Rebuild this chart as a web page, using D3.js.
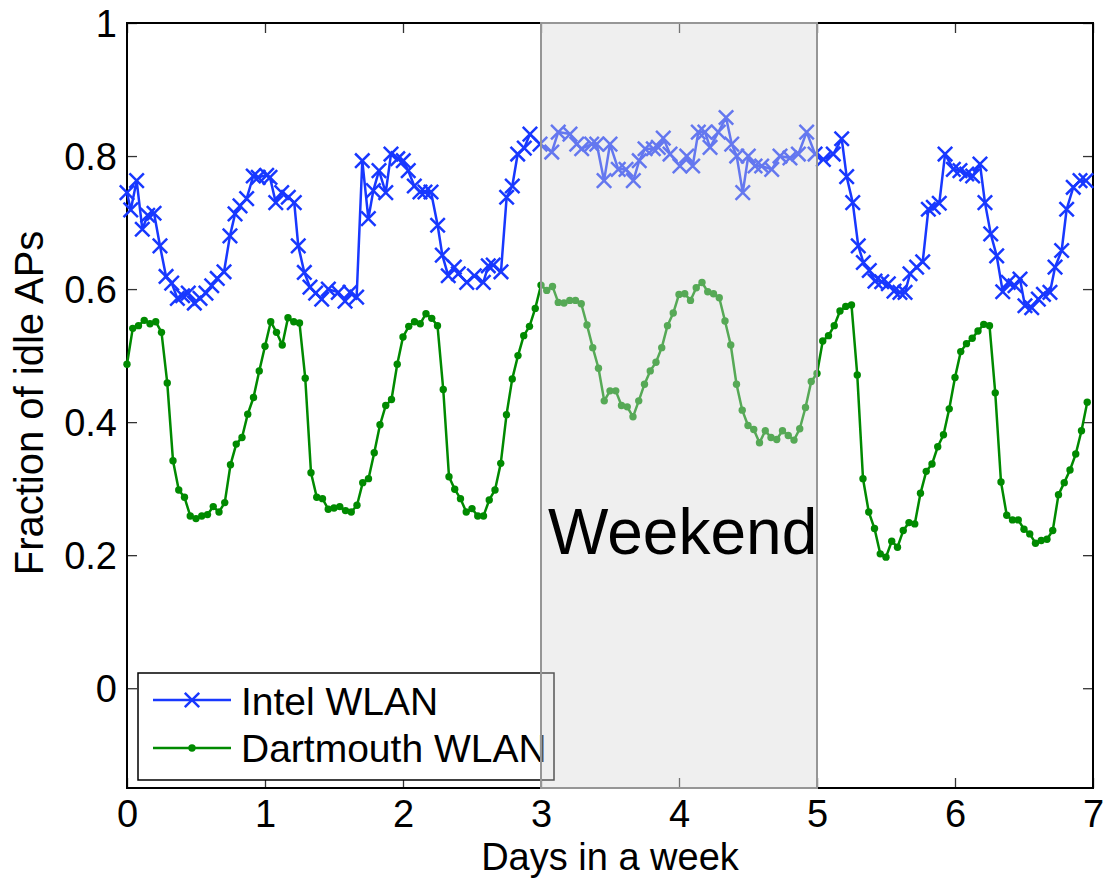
<!DOCTYPE html>
<html>
<head>
<meta charset="utf-8">
<script src="https://cdn.jsdelivr.net/npm/d3@7"></script>
<style>
  html, body { margin: 0; padding: 0; background: #fff; }
  svg { display: block; font-family: "Liberation Sans", Arial, Helvetica, sans-serif; }
</style>
</head>
<body>
<svg id="chart" width="1104" height="879"></svg>
<script>
// ---------------- data ----------------
const xTicks = [0, 1, 2, 3, 4, 5, 6, 7];
const yTicks = [0, 0.2, 0.4, 0.6, 0.8, 1];
const seriesNames = ["Intel WLAN", "Dartmouth WLAN"];
const weekendRange = [3, 5];
const weekendLabel = "Weekend";
const xLabel = "Days in a week";
const yLabel = "Fraction of idle APs";

const intelX = [0.00,0.027,0.070,0.111,0.150,0.196,0.239,0.283,0.324,0.365,
  0.403,0.444,0.488,0.529,0.572,0.614,0.654,0.703,0.746,0.783,
  0.819,0.867,0.915,0.951,1.012,1.036,1.078,1.121,1.169,1.212,
  1.241,1.285,1.326,1.367,1.411,1.459,1.531,1.580,1.616,1.664,
  1.705,1.749,1.785,1.826,1.875,1.913,1.962,2.002,2.038,2.082,
  2.123,2.159,2.203,2.251,2.285,2.328,2.372,2.401,2.462,2.517,
  2.582,2.618,2.654,2.710,2.751,2.792,2.831,2.879,2.920,2.993,
  3.078,3.125,3.210,3.259,3.295,3.367,3.404,3.457,3.500,3.560,
  3.616,3.669,3.712,3.754,3.814,3.850,3.886,3.935,4.007,4.056,
  4.099,4.140,4.188,4.225,4.285,4.341,4.382,4.418,4.462,4.502,
  4.551,4.599,4.672,4.732,4.804,4.865,4.925,4.986,5.046,5.118,
  5.179,5.215,5.259,5.299,5.336,5.379,5.420,5.469,5.517,5.558,
  5.601,5.638,5.674,5.722,5.766,5.807,5.843,5.886,5.928,5.988,
  6.036,6.085,6.128,6.181,6.217,6.259,6.302,6.346,6.386,6.435,
  6.471,6.507,6.556,6.604,6.641,6.688,6.725,6.773,6.809,6.857,
  6.906,6.949];

const intelY = [0.745,0.719,0.763,0.690,0.711,0.714,0.665,0.619,0.609,0.586,
  0.590,0.594,0.579,0.586,0.594,0.605,0.616,0.626,0.680,0.713,
  0.725,0.736,0.770,0.768,0.771,0.768,0.730,0.745,0.738,0.730,
  0.665,0.625,0.603,0.594,0.585,0.600,0.595,0.582,0.595,0.588,
  0.793,0.706,0.748,0.778,0.745,0.803,0.796,0.793,0.778,0.755,
  0.746,0.746,0.746,0.696,0.651,0.620,0.633,0.623,0.610,0.620,
  0.610,0.635,0.636,0.626,0.738,0.755,0.803,0.812,0.833,0.818,
  0.806,0.836,0.833,0.818,0.811,0.818,0.818,0.763,0.818,0.780,
  0.780,0.763,0.793,0.811,0.811,0.813,0.827,0.803,0.785,0.800,
  0.785,0.836,0.836,0.813,0.836,0.858,0.818,0.800,0.745,0.800,
  0.785,0.785,0.780,0.800,0.797,0.803,0.836,0.803,0.795,0.803,
  0.826,0.769,0.730,0.665,0.640,0.628,0.612,0.611,0.608,0.597,
  0.595,0.595,0.623,0.633,0.641,0.720,0.723,0.729,0.803,0.780,
  0.778,0.773,0.770,0.788,0.730,0.683,0.650,0.596,0.610,0.605,
  0.615,0.575,0.572,0.585,0.592,0.595,0.633,0.658,0.720,0.753,
  0.763,0.763];

// Dartmouth: hourly samples (hour index / 24 = day)
const dartmouthHours = d3.range(168);
const dartmouthY = [0.487,0.541,0.545,0.553,0.548,0.551,0.535,0.459,0.342,0.298,
  0.287,0.259,0.255,0.259,0.261,0.273,0.265,0.279,0.336,0.367,
  0.377,0.412,0.437,0.477,0.514,0.551,0.535,0.516,0.557,0.551,
  0.549,0.466,0.324,0.287,0.285,0.269,0.271,0.273,0.267,0.265,
  0.275,0.309,0.315,0.354,0.396,0.425,0.434,0.487,0.528,0.544,
  0.551,0.548,0.563,0.556,0.545,0.449,0.318,0.299,0.285,0.265,
  0.270,0.259,0.259,0.283,0.298,0.338,0.411,0.465,0.500,0.530,
  0.544,0.571,0.606,0.598,0.604,0.580,0.579,0.583,0.583,0.578,
  0.546,0.512,0.481,0.432,0.447,0.447,0.425,0.423,0.408,0.432,
  0.457,0.477,0.490,0.512,0.545,0.564,0.592,0.593,0.583,0.602,
  0.610,0.596,0.593,0.587,0.552,0.516,0.457,0.418,0.395,0.389,
  0.369,0.387,0.377,0.374,0.387,0.380,0.373,0.390,0.422,0.461,
  0.473,0.522,0.530,0.545,0.567,0.574,0.576,0.471,0.315,0.265,
  0.240,0.202,0.197,0.221,0.212,0.237,0.249,0.247,0.293,0.326,
  0.337,0.363,0.381,0.420,0.467,0.506,0.518,0.526,0.537,0.547,
  0.545,0.444,0.310,0.260,0.253,0.253,0.239,0.232,0.218,0.222,
  0.224,0.237,0.291,0.309,0.328,0.352,0.387,0.430];

// ---------------- drawing ----------------
const W = 1104, H = 879;
const plot = { left: 127, right: 1093, top: 23, bottom: 788 };
const blue = "#1838ff", green = "#008a00";

const x = d3.scaleLinear().domain([0, 7]).range([plot.left, plot.right]);
const y = d3.scaleLinear().domain([-0.15, 1]).range([plot.bottom, plot.top]);

const svg = d3.select("#chart");

const intelData = d3.zip(intelX, intelY).map(([a, b]) => ({ x: a, y: b }));
const dartData = dartmouthHours.map((h, i) => ({ x: h / 24, y: dartmouthY[i] }))
  .filter(d => d.y !== undefined);

const line = d3.line().x(d => x(d.x)).y(d => y(d.y));

// axes (inward ticks on all four sides)
const fontSize = 38;
const axB = svg.append("g").attr("transform", `translate(0,${plot.bottom})`)
  .call(d3.axisBottom(x).tickValues(xTicks).tickFormat(d3.format("d")).tickSize(-10).tickPadding(12));
const axT = svg.append("g").attr("transform", `translate(0,${plot.top})`)
  .call(d3.axisTop(x).tickValues(xTicks).tickFormat("").tickSize(-10));
const axL = svg.append("g").attr("transform", `translate(${plot.left},0)`)
  .call(d3.axisLeft(y).tickValues(yTicks).tickFormat(d => d === 0 ? "0" : d === 1 ? "1" : d3.format(".1f")(d)).tickSize(-10).tickPadding(10));
const axR = svg.append("g").attr("transform", `translate(${plot.right},0)`)
  .call(d3.axisRight(y).tickValues(yTicks).tickFormat("").tickSize(-10));

[axB, axT, axL, axR].forEach(g => {
  g.select(".domain").remove();
  g.selectAll(".tick line").attr("stroke", "#333").attr("stroke-width", 1.3);
  g.selectAll(".tick text").attr("fill", "#000").attr("font-size", fontSize)
    .attr("font-family", "Liberation Sans, Arial, sans-serif");
});
axB.selectAll(".tick text").attr("dy", "0.71em").attr("y", 12);
axL.selectAll(".tick text").attr("dy", "0.36em");

// frame
svg.append("rect")
  .attr("x", plot.left).attr("y", plot.top)
  .attr("width", plot.right - plot.left).attr("height", plot.bottom - plot.top)
  .attr("fill", "none").attr("stroke", "#000").attr("stroke-width", 2);

// Intel series
svg.append("path").datum(intelData)
  .attr("d", line).attr("fill", "none").attr("stroke", blue)
  .attr("stroke-width", 2.5).attr("stroke-linejoin", "round");
const xm = 7.2;
svg.append("g").selectAll("path").data(intelData).join("path")
  .attr("d", d => {
    const cx = x(d.x), cy = y(d.y);
    return `M${cx - xm},${cy - xm}L${cx + xm},${cy + xm}M${cx - xm},${cy + xm}L${cx + xm},${cy - xm}`;
  })
  .attr("stroke", blue).attr("stroke-width", 2.5).attr("fill", "none");

// Dartmouth series
svg.append("path").datum(dartData)
  .attr("d", line).attr("fill", "none").attr("stroke", green)
  .attr("stroke-width", 2.5).attr("stroke-linejoin", "round");
svg.append("g").selectAll("circle").data(dartData).join("circle")
  .attr("cx", d => x(d.x)).attr("cy", d => y(d.y)).attr("r", 3.7)
  .attr("fill", green);

// legend
const leg = svg.append("g");
leg.append("rect").attr("x", 138).attr("y", 673).attr("width", 416).attr("height", 107)
  .attr("fill", "#fff").attr("stroke", "#000").attr("stroke-width", 1.5);
const legRows = [
  { name: seriesNames[0], color: blue, ly: 700, ty: 715, mark: "x" },
  { name: seriesNames[1], color: green, ly: 748, ty: 762, mark: "o" }
];
legRows.forEach(r => {
  leg.append("line").attr("x1", 153).attr("x2", 231).attr("y1", r.ly).attr("y2", r.ly)
    .attr("stroke", r.color).attr("stroke-width", 2.5);
  if (r.mark === "x") {
    const cx = 192, cy = r.ly;
    leg.append("path").attr("d", `M${cx - xm},${cy - xm}L${cx + xm},${cy + xm}M${cx - xm},${cy + xm}L${cx + xm},${cy - xm}`)
      .attr("stroke", r.color).attr("stroke-width", 2.5);
  } else {
    leg.append("circle").attr("cx", 192).attr("cy", r.ly).attr("r", 3.7).attr("fill", r.color);
  }
  leg.append("text").attr("x", 241).attr("y", r.ty).attr("font-size", 39)
    .attr("fill", "#000").text(r.name);
});

// weekend shading (translucent, on top of the lines)
svg.append("rect")
  .attr("x", x(weekendRange[0])).attr("y", plot.top)
  .attr("width", x(weekendRange[1]) - x(weekendRange[0]))
  .attr("height", plot.bottom - plot.top)
  .attr("fill", "rgb(215,215,215)").attr("fill-opacity", 0.4)
  .attr("stroke", "#969696").attr("stroke-width", 2);

svg.append("text").attr("x", 548).attr("y", 554).attr("font-size", 64)
  .attr("fill", "#000").text(weekendLabel);

// axis labels
svg.append("text").attr("x", 610).attr("y", 870).attr("text-anchor", "middle")
  .attr("font-size", 38).attr("fill", "#000").text(xLabel);
svg.append("text").attr("transform", "translate(43,403) rotate(-90)")
  .attr("text-anchor", "middle").attr("font-size", 40).attr("fill", "#000").text(yLabel);
</script>
</body>
</html>
